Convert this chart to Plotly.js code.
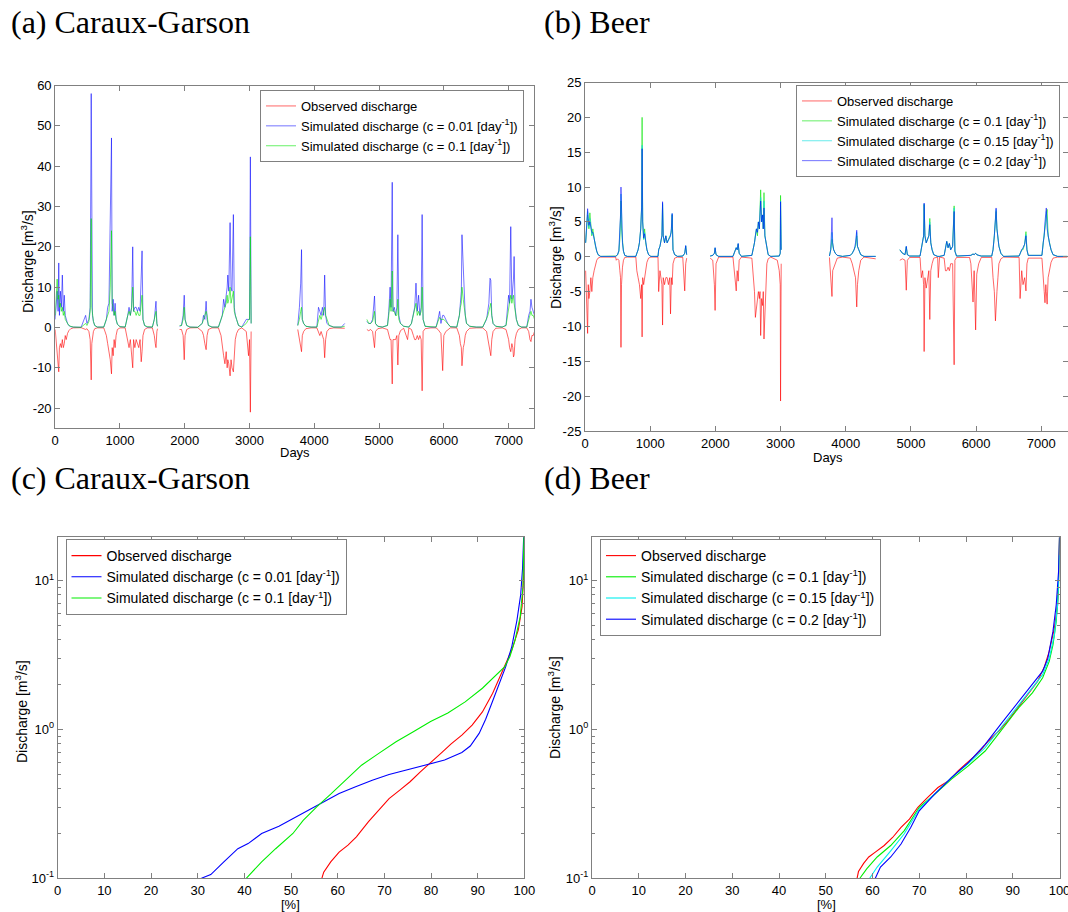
<!DOCTYPE html>
<html>
<head>
<meta charset="utf-8">
<script src="https://cdn.plot.ly/plotly-3.0.1.min.js"></script>
<style>html,body{margin:0;padding:0;background:#fff;}#chart{width:1068px;height:912px;}</style>
</head>
<body>
<div id="chart"></div>
<script>
// ---------- Panel (a) Caraux-Garson : daily discharge (observed shown mirrored, negative) ----------
const daysA = [
0,15,30,45,55,65,80,95,110,125,140,155,170,190,210,240,280,400,
470,490,520,540,556,565,575,590,610,650,750,
790,810,830,850,869,880,895,910,925,940,960,1000,1080,
1120,1140,1160,1180,1197,1210,1230,1250,1270,1290,1310,1328,1341,1355,1380,1420,
1500,1530,1545,1556,1570,1580,1700,
1920,1950,1975,1992,2005,2030,2080,2200,
2270,2290,2310,2330,2345,2365,2420,2520,
2560,2580,2600,2620,2640,2655,2665,2680,2700,2715,2730,2751,2765,2780,2800,2830,2880,2950,2985,3000,3013,3025,3400,
3745,3770,3790,3803,3815,3835,3870,3950,4040,
4065,4085,4105,4125,4145,4160,4175,4195,4230,4300,4420,4470,4650,
4812,4840,4870,4900,4930,4945,4980,5050,5130,
5150,5170,5185,5203,5215,5235,5255,5275,5290,5305,5330,5380,5440,5460,
5500,5530,5550,5570,5590,5610,5630,5650,5665,5680,5710,5800,5880,
5910,5935,5955,5982,6000,6030,6060,6100,6200,
6240,6255,6270,6280,6290,6300,6315,6330,6350,6400,6500,6600,
6660,6680,6695,6713,6725,6740,6760,6800,6900,6960,
6985,7000,7015,7033,7050,7065,7075,7085,7100,7120,7150,7200,7280,
7310,7330,7345,7360,7380,7400
];
const obsA = [
-0.5,-3,-5,-8,-11,-5,-4,-5,-3,-5,-4,-2,-3,-1.5,-0.8,-0.3,-0.1,-0.05,
-0.5,-0.3,-1,-3,-13,-4,-2,-1,-0.3,-0.1,-0.1,
-2,-4,-6,-8,-11.5,-5,-7,-3,-5,-2,-0.5,-0.1,-0.1,
-3,-5,-3,-6,-10,-3,-5,-3,-4,-5,-3,-8.5,-6,-2,-0.5,-0.1,
-0.1,-2,-4,-5,-1,-0.3,null,
-0.5,-0.5,-2,-8,-2,-0.5,-0.1,-0.05,
-1,-2,-4,-5.5,-2,-0.5,-0.1,-0.1,
-2,-5,-7,-9,-6,-10,-8,-9,-12,-8,-10,-11,-5,-3,-1.5,-0.5,-0.1,-1,-7,-3,-21,-1,null,
-0.5,-3,-4,-6,-2,-1,-0.3,-0.1,-0.1,
-1,-2,-1,-2,-3,-7.5,-3,-1,-0.3,-0.1,-0.1,-0.2,null,
-0.5,-0.8,-0.5,-1,-5,-1,-0.3,-0.1,-0.5,
-2,-3,-3,-14,-3,-3,-3,-2,-9.3,-2,-0.8,-0.2,-3,-0.1,
-0.5,-2,-3,-3,-2,-3,-2,-3,-15.7,-1,-0.3,-0.1,-0.1,
-0.5,-1,-1.5,-10.7,-2,-1,-0.5,-0.1,-0.1,
-2,-4,-5,-9.5,-7,-5,-4,-2,-1,-0.2,-0.1,-0.1,
-1,-3,-5,-6,-7,-3,-1,-0.2,-0.1,-0.5,
-2,-3,-5,-6,-4,-5,-7.3,-6.8,-3,-1.5,-0.5,-0.1,-0.1,
-1,-3,-3.5,-2,-2,-1
];
const simA001 = [
2,6,9,4,16,3,9,5,13,4,8,3,2,1,0.5,0.2,0.1,0.05,
3,1,2,5,58,11,3,1.5,0.5,0.1,0.1,
2,5,6,23,47,4,7,3,6,2,0.8,0.2,0.1,
3,5,3,5,20,4,5,5,4,5,4,17,19,2,0.5,0.1,
0.1,2,4,6.5,1,0.3,null,
0.3,0.5,3,8,2,0.5,0.1,0.05,
1,3,2,6.5,2,0.5,0.1,0.1,
2,3,7,5,8,10,13,9,26,10,9,28,5,3,2,0.5,0.1,2,2,2,42.3,1,null,
0.5,5,11,19.3,2,1,0.3,0.1,0.1,
5,4,3,5,3,13,3,1,0.5,0.1,0.1,1,null,
1.5,1,1,2,7.8,1,0.3,0.1,0.5,
4,10,5,36,4,5,3,5,23,3,1,0.3,0.2,0.1,
1,4,5,11,4,8,3,5,28,2,0.3,0.1,0.1,
2,4,1,3,3,2,1,0.2,0.1,
3,7,9,23,18,15,6,3,1,0.3,0.1,0.1,
2,4,6,12.2,11.7,3,1,0.3,0.1,0.5,
5,8,6,25,7,10,12,17.6,5,2,0.5,0.1,0.1,
3,4,7,5,4,3
];
const simA01 = [
3,9,12,7,8,5,6,4,5,3,4,2,1.5,1,0.5,0.3,0.1,0.05,
1,0.5,1.5,4,27,5,3,1.5,0.5,0.1,0.1,
2,3,4,10,24,6,5,3,4,2,0.8,0.2,0.1,
3,4,3,5,10,4,4,3,4,3,3,6,8,2,0.5,0.2,
0.1,2,3,4,1,0.3,null,
0.5,0.5,2,5,2,0.5,0.1,0.05,
1,2,3,4,3,0.5,0.1,0.1,
2,3,4,5,6,8,6,7,10,6,7,9,4,3,2,0.5,0.1,1,2,2,22.5,1,null,
0.5,2,4,5,2,1,0.3,0.1,0.1,
2,3,2,3,4,5,3,2,0.5,0.1,0.1,0.3,null,
2,1,1,1.5,4,1,0.3,0.1,0.5,
3,7,4,14,4,4,3,3,7,2,1,0.3,0.2,0.1,
1,3,4,6,3,4,3,4,10,2,0.3,0.1,0.1,
1.5,2.5,2,2,2,1.5,1,0.2,0.1,
3,5,6,10,9,7,5,3,1,0.3,0.1,0.1,
2,3,4,5,6,3,1,0.3,0.1,0.5,
3,5,6,8,6,7,8,6,4,2,0.5,0.1,0.1,
2,3,4,3,3,2
];

// ---------- Panel (b) Beer : daily discharge ----------
const daysB = [
10,25,40,50,60,75,90,105,120,140,160,180,200,240,470,
480,500,520,535,545,552,560,575,590,610,650,780,
795,815,835,855,868,876,885,900,915,930,950,975,1010,1120,
1130,1150,1170,1180,1190,1200,1220,1240,1260,1280,1300,1312,1325,1337,1350,1375,1420,1500,
1530,1545,1560,1700,
1920,1960,1985,1996,2010,2050,2270,
2290,2320,2335,2350,2365,2400,2560,
2580,2600,2614,2630,2645,2660,2675,2685,2695,2710,2725,2735,2746,2760,2775,2790,2810,2850,2950,2980,2995,3000,3010,3400,
3750,3770,3789,3800,3815,3840,3870,3950,4070,
4100,4130,4150,4169,4180,4200,4230,4280,4460,4650,
4830,4870,4910,4929,4945,4980,5140,
5160,5180,5195,5203,5215,5235,5255,5275,5290,5305,5325,5350,5410,5420,5440,5510,
5530,5550,5570,5590,5610,5640,5663,5675,5700,5900,
5920,5953,5970,5993,6010,6040,6080,6240,
6260,6280,6297,6307,6320,6335,6350,6380,6420,6660,
6675,6700,6720,6745,6765,6780,6800,7010,
7030,7045,7057,7070,7077,7090,7105,7125,7150,7180,7250,7400
];
const obsB = [
-2,-8.7,-11,-4,-6,-5,-3,-5,-3,-2,-1,-0.5,-0.2,-0.05,-0.05,
-0.5,-0.3,-0.5,-2,-3,-13,-4,-1.5,-0.5,-0.1,-0.05,-0.05,
-2,-3,-4,-6,-4,-11.5,-3,-4,-3,-2,-0.8,-0.2,-0.05,-0.05,
-5,-2,-3,-4,-9.8,-3,-4,-3,-3,-4,-3,-8.2,-3,-4,-1,-0.2,-0.05,-0.1,
-4.9,-1,-0.2,null,
-0.2,-0.5,-4,-7.7,-1,-0.05,-0.05,
-2,-4.9,-2,-3.5,-0.5,-0.05,-0.2,
-3,-5,-8.7,-7,-6,-5,-6,-5,-11.3,-6,-7,-5,-11.8,-8,-3,-1,-0.3,-0.05,-0.5,-2,-4,-20.7,-1,null,
-0.1,-3.5,-5.7,-2,-1.6,-1,-0.2,-0.05,-0.2,
-1,-2,-3,-7.2,-4,-2,-0.5,-0.05,-0.3,null,
-0.5,-0.3,-0.5,-4.8,-0.5,-0.1,-0.1,
-3,-2,-4,-13.6,-3,-4.5,-3,-2,-9,-2,-1,-0.2,-0.05,-3,-0.05,-0.2,
-2,-2,-1.5,-2,-1,-1,-15.5,-0.5,-0.1,-0.1,
-1,-6.5,-2,-10.5,-2.5,-1,-0.1,-0.1,
-3,-5,-9.2,-6,-5,-3,-1,-0.3,-0.05,-0.1,
-6,-2,-4,-3,-4.9,-1,-0.2,-0.2,
-4,-5,-6.6,-4,-5,-6.8,-3,-2,-0.8,-0.2,-0.05,-0.05
];
const simB010 = [
2,4,6,5,4,6.3,4,3,4,2.5,1.5,0.8,0.3,0.05,0.05,
0.1,0.3,0.8,2.5,5,8,4,2,0.8,0.2,0.05,0.05,
0.5,1,2,4,7,20,5,2.5,4,2,1,0.3,0.05,0.05,
1,1.5,2.5,3,7.5,3,2,3,2,2.5,3,3,3.5,6,1,0.3,0.05,0.1,
0.5,1.5,0.3,null,
0.1,0.2,0.5,1.2,0.3,0.05,0.05,
0.5,1.3,1,1.8,0.5,0.05,0.2,
1,2,3,4,3,5,4,6,9.6,5,6,4,9.2,3,2,1,0.3,0.05,0.05,0.1,0.5,8.8,1,null,
0.1,1,2.5,1.5,1,0.5,0.2,0.05,0.2,
0.5,1,1.5,3,1.5,1,0.3,0.05,0.05,null,
1,0.5,0.3,1.4,0.3,0.1,0.1,
1,2,3,7.5,3,2,2.5,3,5.5,2,1,0.3,0.05,0.05,0.05,0.2,
1.5,2.2,1.3,1.9,1,1.5,7.3,0.8,0.1,0.1,
0.2,0.4,0.3,0.5,0.3,0.2,0.1,0.1,
1,3,5,6.5,4,2.5,1.5,0.5,0.05,0.1,
0.5,1,1,1.8,3.6,1,0.2,0.2,
2,3,4,5,6,6.8,3,2,1,0.3,0.05,0.05
];
const simB015 = [
2,4.5,6.5,5.2,4.2,5.5,4,3.2,3.5,2.5,1.5,0.8,0.3,0.05,0.05,
0.1,0.3,0.8,3,5.5,9,4.5,2,0.8,0.2,0.05,0.05,
0.5,1,2,4,7,16,5,2.5,3.5,2,1,0.3,0.05,0.05,
1,1.5,2.5,3,7.7,3,2,3,2,2.5,3,3,4,6.2,1,0.3,0.05,0.1,
0.5,1.6,0.3,null,
0.1,0.2,0.5,1.3,0.3,0.05,0.05,
0.5,1.3,1,1.9,0.5,0.05,0.2,
1,2,3,4,3.5,5,4,6,8.5,5,6,4,8,3,2,1,0.3,0.05,0.05,0.1,0.5,8,1,null,
0.1,1,3.5,1.5,1,0.5,0.2,0.05,0.2,
0.5,1,1.5,3.5,1.5,1,0.3,0.05,0.05,null,
1,0.5,0.3,1.5,0.3,0.1,0.1,
1,2,3,7.6,3,2,2.5,3,5,2,1,0.3,0.05,0.05,0.05,0.2,
1.5,2.2,1.3,1.9,1,1.5,7,0.8,0.1,0.1,
0.2,0.4,0.3,0.5,0.3,0.2,0.1,0.1,
1,3,5,6.8,4,2.5,1.5,0.5,0.05,0.1,
0.5,1,1.2,1.8,3.2,1,0.2,0.2,
2,3,4.5,5.5,6.5,5,3,2,1,0.3,0.05,0.05
];
const simB020 = [
2,5,6.9,5.5,4.5,5,4.2,3.5,3.5,2.6,1.5,0.8,0.3,0.05,0.05,
0.1,0.3,0.9,3,6,10,5,2,0.8,0.2,0.05,0.05,
0.5,1,2,4,7,15.5,5,2.7,3.3,2,1,0.3,0.05,0.05,
1,1.5,2.5,3,7.9,3,2,3,2,2.5,3,3,4,6.2,1,0.3,0.05,0.1,
0.5,1.6,0.3,null,
0.1,0.2,0.5,1.3,0.3,0.05,0.05,
0.5,1.3,1,1.9,0.5,0.05,0.2,
1,2,3,4,3.5,5,4,6,8,5,6,4,7,3,2,1,0.3,0.05,0.05,0.1,0.5,7.9,1,null,
0.1,1,5.6,2,1,0.5,0.2,0.05,0.2,
0.5,1,2,3.8,1.5,1,0.3,0.05,0.05,null,
1,0.5,0.3,1.5,0.3,0.1,0.1,
1,2,3,7.7,3,2,2.5,3,4.6,2,1,0.3,0.05,0.05,0.05,0.2,
1.5,2.2,1.3,1.9,1,1.5,6.5,0.8,0.1,0.1,
0.2,0.4,0.3,0.5,0.3,0.2,0.1,0.1,
1,3,5,7,4,2.5,1.5,0.5,0.05,0.1,
0.5,1,1.3,1.8,3,1,0.2,0.2,
2,3,5,6,7,4,3,2,1,0.3,0.05,0.05
];

// ---------- Panel (c) Caraux-Garson : flow duration curves ----------
const pctCobs = [56.6,57,58.5,60.3,62.2,64,66.6,68.8,71,73.3,75.5,77.7,80,82.1,84.3,86.6,88.8,91,93.2,95.4,97.3,98.7,99.5,99.9,100];
const qCobs   = [0.1,0.11,0.129,0.15,0.167,0.19,0.24,0.286,0.343,0.391,0.445,0.519,0.607,0.69,0.8,0.916,1.07,1.31,1.75,2.51,3.42,4.66,6.68,11.8,20];
const pctC001 = [30.8,32.8,35.6,38.6,40.8,43.7,47.4,50.4,54.1,57,60.3,63.7,67.4,71,74.7,79.2,82.9,86.6,88.4,90.3,91.7,93.2,94.7,96,97.3,98.4,99.2,99.6,99.85];
const qC001   = [0.1,0.106,0.129,0.158,0.171,0.2,0.224,0.252,0.292,0.326,0.371,0.411,0.456,0.498,0.533,0.582,0.622,0.7,0.773,0.94,1.17,1.55,2.1,2.64,3.6,5.4,8,12,19.8];
const pctC01  = [40.4,43.7,46.7,50.4,52.6,55.5,58.5,61.4,65.1,68.8,72.5,76.2,79.9,83.6,87.3,91,94,95.8,96.9,98,99.1,99.7,99.9];
const qC01    = [0.1,0.129,0.158,0.2,0.245,0.302,0.367,0.445,0.575,0.69,0.826,0.964,1.13,1.29,1.53,1.89,2.32,2.64,3.09,3.98,5.7,9.1,19.8];

// ---------- Panel (d) Beer : flow duration curves ----------
const pctDobs = [56.7,57,58.1,59.2,60.6,62.5,64.3,66.1,67.9,69.7,71.8,74,76.2,78.3,80.5,82.7,84.8,87,89.2,91.3,93.5,95.3,96.8,97.8,98.9,99.6,99.9,100];
const qDobs   = [0.1,0.111,0.126,0.139,0.15,0.166,0.188,0.22,0.25,0.3,0.35,0.407,0.45,0.526,0.608,0.698,0.836,0.975,1.17,1.43,1.76,2.1,2.65,3.34,4.79,6.86,11.5,19.6];
const pctD010 = [57.3,58.8,61,63.9,66.8,70,73.3,76.9,80.5,84.1,87.7,91.3,94.2,96.4,97.8,98.6,99.3,99.8,100];
const qD010   = [0.1,0.116,0.139,0.166,0.209,0.3,0.367,0.463,0.569,0.716,1.0,1.4,1.76,2.22,2.86,3.7,5.3,8.9,19.6];
const pctD015 = [59.4,61,63.9,66.8,70,73.3,76.9,80.5,84.1,87.7,91.3,94.2,96.4,97.8,98.9,99.6,100];
const qD015   = [0.1,0.119,0.153,0.199,0.292,0.367,0.475,0.589,0.754,1.05,1.47,1.9,2.33,3.0,4.3,6.86,14.8];
const pctD020 = [60.6,61.7,63.9,66.1,68.2,70,73.3,76.9,80.5,84.1,87.7,91.3,94.2,96.4,97.5,98.6,99.3,99.8,100];
const qD020   = [0.1,0.119,0.139,0.17,0.22,0.284,0.367,0.475,0.598,0.794,1.11,1.55,2.0,2.46,3.0,4.55,6.86,11.5,19.6];

// ---------- tick labels and texts ----------
const yTicksA = [-20,-10,0,10,20,30,40,50,60];
const yTickTextA = ['-20','-10','0','10','20','30','40','50','60'];
const yTicksB = [-25,-20,-15,-10,-5,0,5,10,15,20,25];
const yTickTextB = ['-25','-20','-15','-10','-5','0','5','10','15','20','25'];
const logTicks = [0.1,1,10];
const logTickText = ['10<sup>-1</sup>','10<sup>0</sup>','10<sup>1</sup>'];
const logMinor = [0.2,0.3,0.4,0.5,0.6,0.7,0.8,0.9,2,3,4,5,6,7,8,9];
const panelTitles = ['(a) Caraux-Garson','(b) Beer','(c) Caraux-Garson','(d) Beer'];
const nameObs = 'Observed discharge';
const nameSim = c => 'Simulated discharge (c = ' + c + ' [day<sup>-1</sup>])';

// sanity check on array lengths
[[daysA,obsA,simA001,simA01],[daysB,obsB,simB010,simB015,simB020]].forEach(g=>{
  g.forEach(a=>{ if(a.length!==g[0].length) throw new Error('length mismatch '+a.length+' vs '+g[0].length); });
});

const SANS = 'Liberation Sans, Arial, sans-serif';
const SERIF = 'Liberation Serif, Times New Roman, serif';
const W = 1068, H = 912;
const fx = p => p / W;
const fy = p => 1 - p / H;

const tsLine = (col) => ({color: col, width: 1});
const traces = [
  // (a)
  {x: daysA, y: obsA, name: nameObs, type: 'scatter', mode: 'lines', line: tsLine('rgba(255,0,0,0.6)'), xaxis: 'x', yaxis: 'y', legend: 'legend'},
  {x: daysA, y: simA001, name: nameSim('0.01'), type: 'scatter', mode: 'lines', line: tsLine('rgba(0,0,255,0.55)'), xaxis: 'x', yaxis: 'y', legend: 'legend'},
  {x: daysA, y: simA01, name: nameSim('0.1'), type: 'scatter', mode: 'lines', line: tsLine('rgba(0,230,0,0.6)'), xaxis: 'x', yaxis: 'y', legend: 'legend'},
  // (b)
  {x: daysB, y: obsB, name: nameObs, type: 'scatter', mode: 'lines', line: tsLine('rgba(255,0,0,0.6)'), xaxis: 'x2', yaxis: 'y2', legend: 'legend2'},
  {x: daysB, y: simB010, name: nameSim('0.1'), type: 'scatter', mode: 'lines', line: tsLine('rgba(0,230,0,0.6)'), xaxis: 'x2', yaxis: 'y2', legend: 'legend2'},
  {x: daysB, y: simB015, name: nameSim('0.15'), type: 'scatter', mode: 'lines', line: tsLine('rgba(0,220,220,0.6)'), xaxis: 'x2', yaxis: 'y2', legend: 'legend2'},
  {x: daysB, y: simB020, name: nameSim('0.2'), type: 'scatter', mode: 'lines', line: tsLine('rgba(0,0,255,0.55)'), xaxis: 'x2', yaxis: 'y2', legend: 'legend2'},
  // (c)
  {x: pctCobs, y: qCobs, name: nameObs, type: 'scatter', mode: 'lines', line: {color: '#ff0000', width: 1.1}, xaxis: 'x3', yaxis: 'y3', legend: 'legend3'},
  {x: pctC001, y: qC001, name: nameSim('0.01'), type: 'scatter', mode: 'lines', line: {color: '#0000ff', width: 1.1}, xaxis: 'x3', yaxis: 'y3', legend: 'legend3'},
  {x: pctC01, y: qC01, name: nameSim('0.1'), type: 'scatter', mode: 'lines', line: {color: '#00ee00', width: 1.1}, xaxis: 'x3', yaxis: 'y3', legend: 'legend3'},
  // (d)
  {x: pctDobs, y: qDobs, name: nameObs, type: 'scatter', mode: 'lines', line: {color: '#ff0000', width: 1.1}, xaxis: 'x4', yaxis: 'y4', legend: 'legend4'},
  {x: pctD010, y: qD010, name: nameSim('0.1'), type: 'scatter', mode: 'lines', line: {color: '#00ee00', width: 1.1}, xaxis: 'x4', yaxis: 'y4', legend: 'legend4'},
  {x: pctD015, y: qD015, name: nameSim('0.15'), type: 'scatter', mode: 'lines', line: {color: '#00eeee', width: 1.1}, xaxis: 'x4', yaxis: 'y4', legend: 'legend4'},
  {x: pctD020, y: qD020, name: nameSim('0.2'), type: 'scatter', mode: 'lines', line: {color: '#0000ff', width: 1.1}, xaxis: 'x4', yaxis: 'y4', legend: 'legend4'}
];

const axBase = () => ({
  showline: true, linecolor: '#808080', linewidth: 1, mirror: 'ticks',
  ticks: 'inside', ticklen: 5, tickcolor: '#808080', tickwidth: 1,
  showgrid: false, zeroline: false, fixedrange: true,
  ticklabeloverflow: 'allow',
  tickfont: {family: SANS, size: 13, color: '#000'}
});

const legBase = (size) => ({
  bgcolor: '#ffffff', bordercolor: '#808080', borderwidth: 1,
  font: {family: SANS, size: size, color: '#000'},
  traceorder: 'normal', itemwidth: 30, tracegroupgap: 0
});

const ann = (text, xp, yp, size, fam, extra) => Object.assign({
  text: text, x: fx(xp), y: fy(yp), xref: 'paper', yref: 'paper',
  showarrow: false, font: {family: fam, size: size, color: '#000'},
  xanchor: 'center', yanchor: 'middle'
}, extra || {});

const layout = {
  width: W, height: H,
  margin: {l: 0, r: 0, t: 0, b: 0},
  paper_bgcolor: '#fff', plot_bgcolor: '#fff',
  showlegend: true,
  xaxis: Object.assign(axBase(), {domain: [fx(55.2), fx(534.2)], anchor: 'y', range: [0, 7395], tick0: 0, dtick: 1000}),
  yaxis: Object.assign(axBase(), {domain: [fy(428.3), fy(85.5)], anchor: 'x', range: [-25, 60], tickmode: 'array', tickvals: yTicksA, ticktext: yTickTextA}),
  xaxis2: Object.assign(axBase(), {domain: [fx(585), 1], anchor: 'y2', range: [0, 7410], tick0: 0, dtick: 1000}),
  yaxis2: Object.assign(axBase(), {domain: [fy(431), fy(82.5)], anchor: 'x2', range: [-25, 25], tickmode: 'array', tickvals: yTicksB, ticktext: yTickTextB}),
  xaxis3: Object.assign(axBase(), {domain: [fx(57.7), fx(524.4)], anchor: 'y3', range: [0, 100], tick0: 0, dtick: 10}),
  yaxis3: Object.assign(axBase(), {domain: [fy(878.3), fy(537.3)], anchor: 'x3', type: 'log', range: [-1, 1.29], tickmode: 'array', tickvals: logTicks, ticktext: logTickText,
    minor: {tickmode: 'array', tickvals: logMinor, ticks: 'inside', ticklen: 3, tickcolor: '#808080', showgrid: false}}),
  xaxis4: Object.assign(axBase(), {domain: [fx(592), fx(1059.5)], anchor: 'y4', range: [0, 100], tick0: 0, dtick: 10}),
  yaxis4: Object.assign(axBase(), {domain: [fy(878.3), fy(537.3)], anchor: 'x4', type: 'log', range: [-1, 1.29], tickmode: 'array', tickvals: logTicks, ticktext: logTickText,
    minor: {tickmode: 'array', tickvals: logMinor, ticks: 'inside', ticklen: 3, tickcolor: '#808080', showgrid: false}}),
  legend: Object.assign(legBase(13), {x: fx(524), xanchor: 'right', y: fy(90), yanchor: 'top'}),
  legend2: Object.assign(legBase(13), {x: fx(1060), xanchor: 'right', y: fy(85), yanchor: 'top'}),
  legend3: Object.assign(legBase(14), {x: fx(65.5), xanchor: 'left', y: fy(539), yanchor: 'top'}),
  legend4: Object.assign(legBase(14), {x: fx(600), xanchor: 'left', y: fy(539), yanchor: 'top'}),
  annotations: [
    ann(panelTitles[0], 9, 22, 32, SERIF, {xanchor: 'left'}),
    ann(panelTitles[1], 542, 22, 32, SERIF, {xanchor: 'left'}),
    ann(panelTitles[2], 9, 478, 32, SERIF, {xanchor: 'left'}),
    ann(panelTitles[3], 542, 478, 32, SERIF, {xanchor: 'left'}),
    ann('Discharge [m<sup>3</sup>/s]', 27, 262, 14, SANS, {textangle: -90}),
    ann('Discharge [m<sup>3</sup>/s]', 555, 258, 14, SANS, {textangle: -90}),
    ann('Discharge [m<sup>3</sup>/s]', 21, 712, 14, SANS, {textangle: -90}),
    ann('Discharge [m<sup>3</sup>/s]', 554, 708, 14, SANS, {textangle: -90}),
    ann('Days', 295, 452, 13, SANS),
    ann('Days', 828, 457, 13, SANS),
    ann('[%]', 290, 904, 13, SANS),
    ann('[%]', 826, 904, 13, SANS)
  ]
};

Plotly.newPlot('chart', traces, layout, {staticPlot: true, displayModeBar: false});
</script>
</body>
</html>
